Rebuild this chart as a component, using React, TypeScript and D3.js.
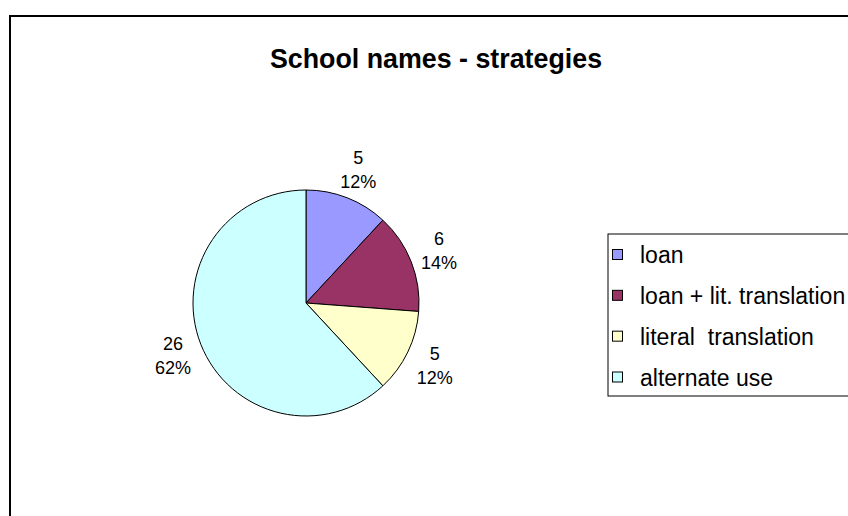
import React, { useEffect, useRef } from 'react';
import * as d3 from 'd3';

// chart data
const categories = ['loan', 'loan + lit. translation', 'literal  translation', 'alternate use'];
const counts = [5, 6, 5, 26];
const sliceColors = ['#9999FF', '#993366', '#FFFFCC', '#CCFFFF'];
const chartTitle = 'School names - strategies';

const FONT = '"Liberation Sans", Arial, Helvetica, sans-serif';

const App: React.FC = () => {
    const svgRef = useRef<SVGSVGElement>(null);

    useEffect(() => {
        if (!svgRef.current) return;
        const svg = d3.select(svgRef.current);
        svg.selectAll('*').remove();

        const width = 848;
        const height = 516;

        svg.append('rect')
            .attr('width', width)
            .attr('height', height)
            .attr('fill', '#ffffff');

        // outer chart border (runs off right and bottom edge)
        svg.append('rect')
            .attr('x', 10)
            .attr('y', 16)
            .attr('width', 900)
            .attr('height', 600)
            .attr('fill', 'none')
            .attr('stroke', '#000000')
            .attr('stroke-width', 2);

        svg.append('text')
            .attr('x', 436)
            .attr('y', 68)
            .attr('text-anchor', 'middle')
            .attr('font-family', FONT)
            .attr('font-weight', 'bold')
            .attr('font-size', '26.8px')
            .attr('fill', '#000000')
            .text(chartTitle);

        // pie
        const cx = 306;
        const cy = 303;
        const radius = 113;
        const total = d3.sum(counts);

        const pie = d3.pie<number>().sort(null).value((d: number) => d);
        const arcs = pie(counts);
        const arc = d3.arc<d3.PieArcDatum<number>>().innerRadius(0).outerRadius(radius);
        const labelArc = d3.arc<d3.PieArcDatum<number>>().innerRadius(143).outerRadius(143);

        const g = svg.append('g').attr('transform', `translate(${cx}, ${cy})`);

        g.selectAll('path.slice')
            .data(arcs)
            .enter()
            .append('path')
            .attr('class', 'slice')
            .attr('d', (d: d3.PieArcDatum<number>) => arc(d) as string)
            .attr('fill', (_d: d3.PieArcDatum<number>, i: number) => sliceColors[i])
            .attr('stroke', '#000000')
            .attr('stroke-width', 1)
            .attr('stroke-linejoin', 'round');

        // data labels: value + percent
        arcs.forEach((a) => {
            const [lx, ly] = labelArc.centroid(a);
            const label = g.append('text')
                .attr('text-anchor', 'middle')
                .attr('font-family', FONT)
                .attr('font-size', '18px')
                .attr('fill', '#000000');
            label.append('tspan')
                .attr('x', lx)
                .attr('y', ly - 5.5)
                .text(String(a.value));
            label.append('tspan')
                .attr('x', lx)
                .attr('y', ly + 18.5)
                .text(d3.format('.0%')(a.value / total));
        });

        // legend
        const legendX = 608;
        const legendY = 234;
        const legend = svg.append('g');
        legend.append('rect')
            .attr('x', legendX)
            .attr('y', legendY)
            .attr('width', 300)
            .attr('height', 162)
            .attr('fill', '#ffffff')
            .attr('stroke', '#000000')
            .attr('stroke-width', 1);

        const rowY = d3.scalePoint<string>()
            .domain(categories)
            .range([legendY + 20.5, legendY + 143]);

        categories.forEach((c, i) => {
            const y = rowY(c) as number;
            legend.append('rect')
                .attr('x', legendX + 4.5)
                .attr('y', y - 5)
                .attr('width', 10)
                .attr('height', 10)
                .attr('fill', sliceColors[i])
                .attr('stroke', '#000000')
                .attr('stroke-width', 1);
            legend.append('text')
                .attr('x', legendX + 32)
                .attr('y', y + 8.5)
                .attr('font-family', FONT)
                .attr('font-size', '23px')
                .attr('fill', '#000000')
                .style('white-space', 'pre')
                .text(c);
        });
    }, []);

    return (
        <svg
            ref={svgRef}
            width={848}
            height={516}
            style={{ position: 'absolute', left: 0, top: 0, display: 'block' }}
        ></svg>
    );
};

export default App;
